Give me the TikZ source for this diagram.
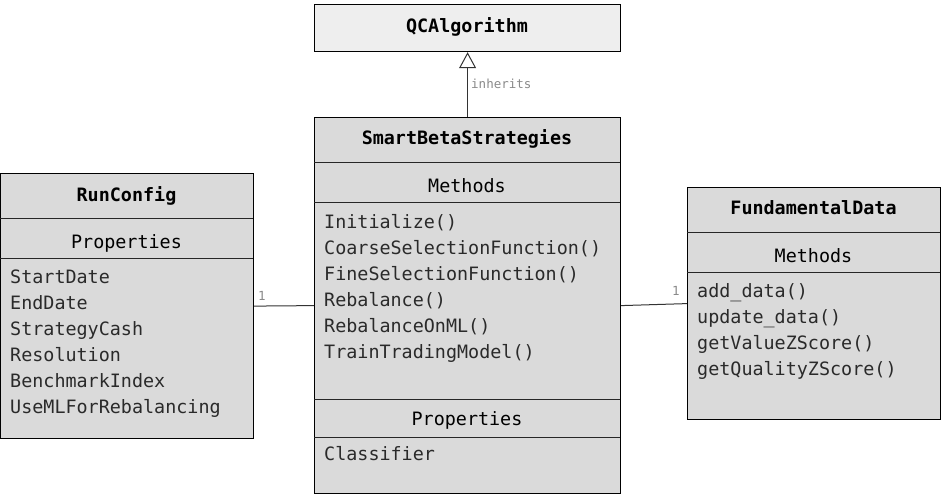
\documentclass[tikz,border=0pt]{standalone}
\usepackage{fontspec}
\setmonofont{DejaVu Sans Mono}
\usetikzlibrary{arrows.meta}
\definecolor{boxfill}{HTML}{DADADA}
\definecolor{topfill}{HTML}{EEEEEE}
\definecolor{txt}{HTML}{2A2A2A}
\definecolor{lbl}{HTML}{8A8A8A}
\tikzset{
  classbox/.style={draw=black, line width=1.2pt, fill=boxfill, anchor=north west, inner sep=0pt},
  divider/.style={draw=black!85, line width=0.9pt},
  hdr/.style={font=\ttfamily\fontsize{18.4}{20}\selectfont, text=black, anchor=base, inner sep=0pt},
  item/.style={font=\ttfamily\fontsize{18.4}{20}\selectfont, text=txt, anchor=base west, inner sep=0pt},
  small/.style={font=\ttfamily\fontsize{12.5}{14}\selectfont, text=lbl, anchor=base west, inner sep=0pt},
  conn/.style={draw=black!80, line width=1pt},
}
\begin{document}
\begin{tikzpicture}[x=1pt,y=-1pt]
\useasboundingbox (0,0) rectangle (942,500);
% QCAlgorithm
\node[classbox, fill=topfill, minimum width=306pt, minimum height=47pt] (qc) at (314,4) {};
\node[hdr] (qct) at (467,32.3) {\bfseries QCAlgorithm};
% SmartBetaStrategies
\node[classbox, minimum width=306pt, minimum height=376pt] (sbs) at (314,117) {};
\draw[divider] (314,162) -- (620,162);
\draw[divider] (314,202) -- (620,202);
\draw[divider] (314,399) -- (620,399);
\draw[divider] (314,437) -- (620,437);
\node[hdr] (sbst) at (467,144) {\bfseries SmartBetaStrategies};
\node[hdr] (sbsm) at (467,192.5) {Methods};
\node[item] (m1) at (324,228) {Initialize()};
\node[item] (m2) at (324,254) {CoarseSelectionFunction()};
\node[item] (m3) at (324,280) {FineSelectionFunction()};
\node[item] (m4) at (324,306) {Rebalance()};
\node[item] (m5) at (324,332) {RebalanceOnML()};
\node[item] (m6) at (324,358) {TrainTradingModel()};
\node[hdr] (sbsp) at (467,425.5) {Properties};
\node[item] (p1) at (324,460) {Classifier};
% RunConfig
\node[classbox, minimum width=253pt, minimum height=265pt] (rc) at (0,173) {};
\draw[divider] (0,218) -- (253,218);
\draw[divider] (0,258) -- (253,258);
\node[hdr] (rct) at (126.5,201.5) {\bfseries RunConfig};
\node[hdr] (rcp) at (126.5,248) {Properties};
\node[item] (r1) at (10,283) {StartDate};
\node[item] (r2) at (10,309) {EndDate};
\node[item] (r3) at (10,335) {StrategyCash};
\node[item] (r4) at (10,361) {Resolution};
\node[item] (r5) at (10,387) {BenchmarkIndex};
\node[item] (r6) at (10,413) {UseMLForRebalancing};
% FundamentalData
\node[classbox, minimum width=253pt, minimum height=232pt] (fd) at (687,187) {};
\draw[divider] (687,232) -- (940,232);
\draw[divider] (687,272) -- (940,272);
\node[hdr] (fdt) at (813.5,214) {\bfseries FundamentalData};
\node[hdr] (fdm) at (813.5,262.5) {Methods};
\node[item] (f1) at (697,297) {add\_data()};
\node[item] (f2) at (697,323) {update\_data()};
\node[item] (f3) at (697,349) {getValueZScore()};
\node[item] (f4) at (697,375) {getQualityZScore()};
% connectors
\draw[conn, -{Triangle[open, width=17pt, length=16pt, fill=white]}] (sbs.north) -- (qc.south);
\node[small] (inh) at (471,89) {inherits};
\draw[conn] (rc.east) -- (sbs.west);
\node[small] (one1) at (258,300) {1};
\draw[conn] (sbs.east) -- (fd.west);
\node[small] (one2) at (672,295) {1};
\end{tikzpicture}
\end{document}
